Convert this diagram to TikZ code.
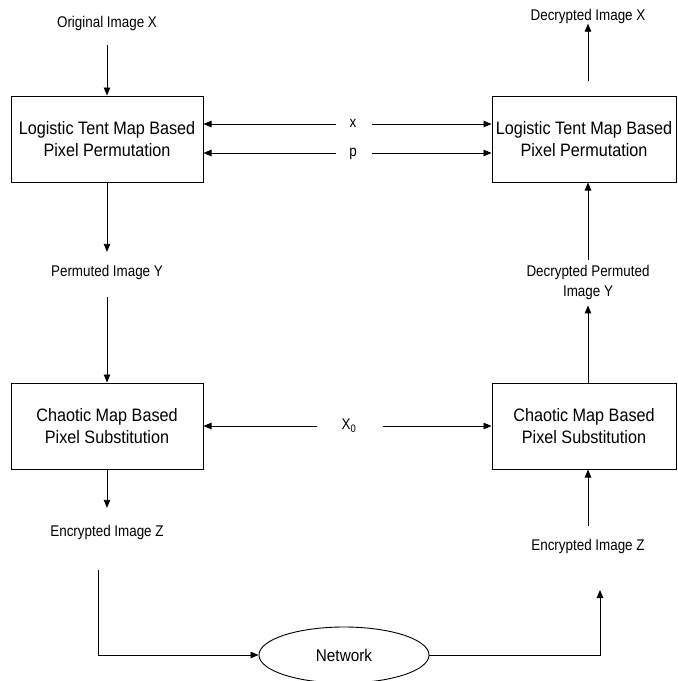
\documentclass[tikz,border=0pt]{standalone}
\usepackage{fontspec}
\setmainfont{Liberation Sans}
\newfontfamily\boxfont{Liberation Sans}[FakeStretch=0.9]
\newfontfamily\lblfont{Liberation Sans}[FakeStretch=0.865]
\usetikzlibrary{arrows.meta,shapes.geometric}
\begin{document}
\begin{tikzpicture}[x=1pt,y=-1pt,
  proc/.style={draw,line width=1pt,minimum height=86pt,inner sep=0pt,align=center,font=\boxfont\fontsize{18}{22}\selectfont},
  lbl/.style={inner sep=0pt,text height=10pt,text depth=3pt,align=center,font=\lblfont\fontsize{15.5}{20}\selectfont},
  lbltwo/.style={inner sep=0pt,align=center,font=\lblfont\fontsize{15.5}{20}\selectfont},
  arr/.style={line width=0.9pt,-{Triangle[length=8pt,width=6.5pt]}},
  ln/.style={line width=0.9pt}]
\useasboundingbox (0,0) rectangle (678,681);
% boxes
\node[proc,minimum width=192pt] (tl) at (107,139) {Logistic Tent Map Based\\Pixel Permutation};
\node[proc,minimum width=184pt] (tr) at (584,139) {Logistic Tent Map Based\\Pixel Permutation};
\node[proc,minimum width=192pt] (bl) at (107,426) {Chaotic Map Based\\Pixel Substitution};
\node[proc,minimum width=184pt] (br) at (584,426) {Chaotic Map Based\\Pixel Substitution};
\node[draw,ellipse,line width=0.9pt,minimum width=170pt,minimum height=56pt,inner sep=0pt,font=\boxfont\fontsize{17}{20}\selectfont] (net) at (344,655) {Network};
% labels
\node[lbl] (orig) at (107,24) {Original Image X};
\node[lbl] (decx) at (588,17) {Decrypted Image X};
\node[lbl] (perm) at (107,273) {Permuted Image Y};
\node[lbltwo] (dperm) at (588,282) {Decrypted Permuted\\Image Y};
\node[lbl] (encl) at (107,533) {Encrypted Image Z};
\node[lbl] (encr) at (588,547) {Encrypted Image Z};
\node[lbl] (xl) at (353,124) {x};
\node[lbl] (pl) at (353,153) {p};
\node[lbl] (x0) at (349,426) {X\textsubscript{0}};
% vertical flow
\draw[arr,shorten <=14.5pt] (orig.south) -- (orig.south |- tl.north);
\draw[arr,shorten >=14.5pt] (tl.south) -- (perm.north);
\draw[arr,shorten <=17.5pt] (perm.south) -- (bl.north);
\draw[arr,shorten >=18.5pt] (bl.south) -- (encl.north);
\draw[arr,shorten <=14.5pt] (encr.north) -- (encr.north |- br.south);
\draw[arr,shorten >=6pt] (dperm.south |- br.north) -- (dperm.south);
\draw[arr,shorten <=5pt] (dperm.north) -- (dperm.north |- tr.south);
\draw[arr,shorten <=14.5pt] (decx.south |- tr.north) -- (decx.south);
% keys
\draw[arr,shorten <=13pt] (xl.west) -- (tl.east |- xl);
\draw[arr,shorten <=15pt] (xl.east) -- (tr.west |- xl);
\draw[arr,shorten <=13pt] (pl.west) -- (tl.east |- pl);
\draw[arr,shorten <=15pt] (pl.east) -- (tr.west |- pl);
\draw[arr,shorten <=24pt] (x0.west) -- (bl.east |- x0);
\draw[arr,shorten <=26pt] (x0.east) -- (br.west |- x0);
% network
\coordinate (c1) at (98,570);
\coordinate (c2) at (600,590);
\draw[arr] (c1) |- (net.west);
\draw[arr] (net.east) -| (c2);
\end{tikzpicture}
\end{document}
